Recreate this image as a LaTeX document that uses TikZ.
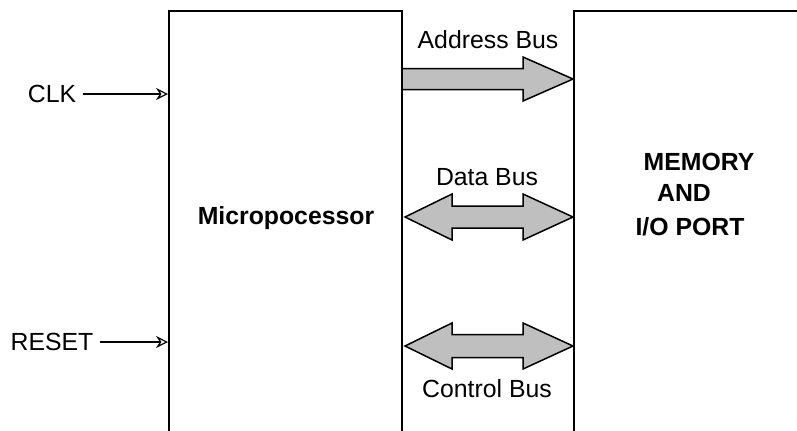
\documentclass[tikz,border=0pt]{standalone}
\usepackage{fontspec}
\setmainfont{Liberation Sans}
\usetikzlibrary{arrows.meta}

\tikzset{
  block/.style = {draw, line width=0.9pt, anchor=north west, inner sep=0pt},
  txt/.style = {font=\fontsize{12.4}{15}\selectfont},
  bold/.style = {font=\fontsize{12.4}{15}\selectfont\bfseries},
  sig/.style = {line width=0.6pt, -{Stealth[open,length=6pt,width=6pt,inset=2pt]}},
  bus/.style = {draw, line width=0.75pt, fill=black!25, line join=miter}
}

\begin{document}
\begin{tikzpicture}[x=0.5pt,y=-0.5pt]
\clip (0,0) rectangle (797,430);
\fill[white] (0,0) rectangle (797,430);

% the two blocks
\node[block, minimum width=116.5pt, minimum height=260pt] (mp) at (168,10) {};
\node[block, minimum width=150pt, minimum height=260pt] (mem) at (573,10) {};

\node[bold] (mpname) at (286,218) {Micropocessor};
\node[bold] (memname) at (699,162) {MEMORY};
\node[bold] (andname) at (684,193) {AND};
\node[bold] (ioname) at (690,227) {I/O PORT};

% inputs
\node[txt] (clk) at (52,94) {CLK};
\node[txt] (reset) at (52,342) {RESET};
\draw[sig] (clk) -- (clk -| mp.west);
\draw[sig] (reset) -- (reset -| mp.west);

% buses
\coordinate (addrL) at (402,79);
\coordinate (addrR) at (573,79);
\coordinate (dataL) at (405,217);
\coordinate (dataR) at (573,217);
\coordinate (ctrlL) at (405,346);
\coordinate (ctrlR) at (573,346);

\path[bus] (addrL) ++(0,-10.5) -- ++(121,0) -- ++(0,-11.5) -- (addrR)
           -- ++(-50,22) -- ++(0,-11.5) -- ++(-121,0) -- cycle;
\path[bus] (dataL) -- ++(47,-23) -- ++(0,12) -- ++(71,0) -- ++(0,-12) -- (dataR)
           -- ++(-50,23) -- ++(0,-12) -- ++(-71,0) -- ++(0,12) -- cycle;
\path[bus] (ctrlL) -- ++(47,-23) -- ++(0,11.5) -- ++(71,0) -- ++(0,-11.5) -- (ctrlR)
           -- ++(-50,23) -- ++(0,-11.5) -- ++(-71,0) -- ++(0,11.5) -- cycle;

\node[txt] (addrname) at (488,40) {Address Bus};
\node[txt] (dataname) at (487,177) {Data Bus};
\node[txt] (ctrlname) at (487,389) {Control Bus};
\end{tikzpicture}
\end{document}
